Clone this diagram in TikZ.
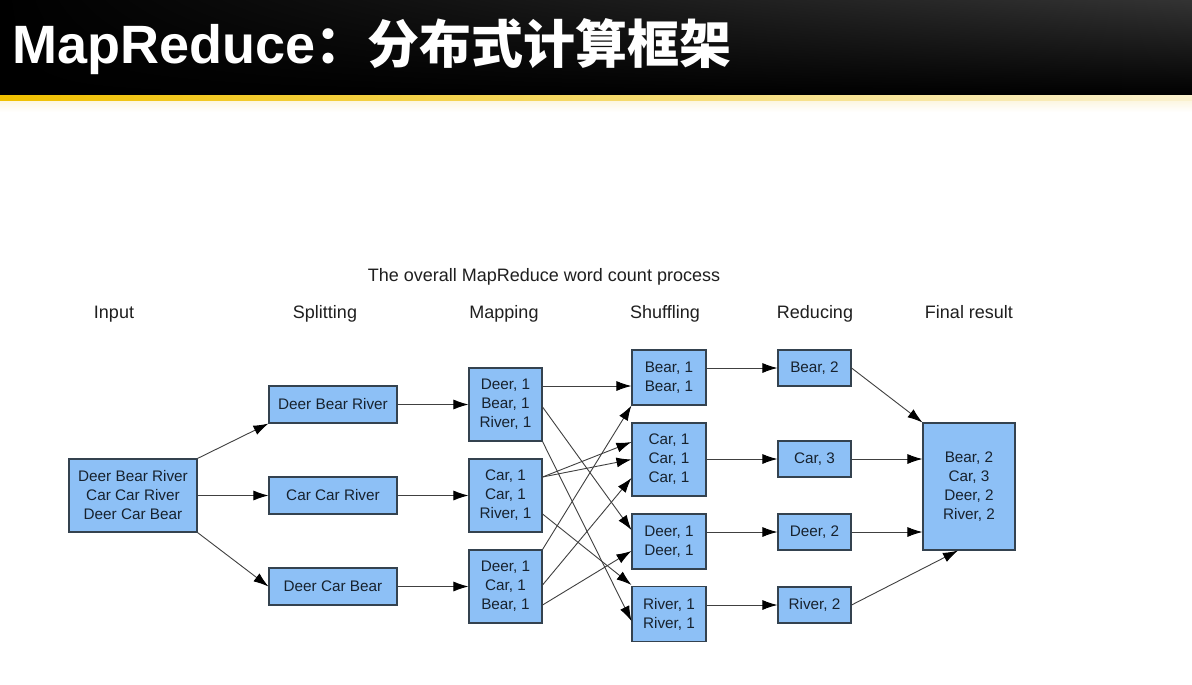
\documentclass[tikz,border=0pt]{standalone}
\usepackage{fontspec}
\setmainfont{Liberation Sans}
\newfontfamily\cjk{Noto Sans CJK SC}
\usetikzlibrary{arrows.meta,shadings}
\definecolor{boxfill}{HTML}{8DC0F6}
\definecolor{boxdraw}{HTML}{34424F}
\definecolor{txt}{HTML}{17222E}
\definecolor{gold}{HTML}{F0C000}
\definecolor{paleyel}{HTML}{FAF1CF}
\begin{document}
\begin{tikzpicture}[x=1pt,y=-1pt,
  box/.style={draw=boxdraw, line width=1.1pt, fill=boxfill, inner sep=0pt, text=txt,
    font=\fontsize{15.3}{19}\selectfont, align=center},
  arr/.style={draw=black!75, line width=0.9pt, -{Latex[length=15pt,width=10pt,color=black]}},
  hdr/.style={font=\fontsize{18}{22}\selectfont, text=black!88, anchor=base, inner sep=0pt}]
\useasboundingbox (0,0) rectangle (1192,685);
\fill[white] (0,0) rectangle (1192,685);
% header bar
\shade[upper left=black, lower left=black, lower right=black, upper right=black!80!white] (0,0) rectangle (1192,96);
\shade[left color=gold, right color=paleyel] (0,96) rectangle (1192,101);
\shade[top color=paleyel!60!white, bottom color=white] (0,101) rectangle (1192,112);
\node[anchor=base west, text=white, inner sep=0pt] (ttl) at (12,64)
  {\fontsize{54}{54}\selectfont\bfseries MapReduce\cjk\fontsize{52}{52}\selectfont ：分布式计算框架};

% titles
\node[hdr] (cap) at (544,281) {The overall MapReduce word count process};
\node[hdr] (h1) at (114,318) {Input};
\node[hdr] (h2) at (325,318) {Splitting};
\node[hdr] (h3) at (504,318) {Mapping};
\node[hdr] (h4) at (665,318) {Shuffling};
\node[hdr] (h5) at (815,318) {Reducing};
\node[hdr] (h6) at (969,318) {Final result};

% input
\node[box, minimum width=128pt, minimum height=73pt] (in) at (133,495.5) {Deer Bear River\\Car Car River\\Deer Car Bear};
% splitting
\node[box, minimum width=128pt, minimum height=37pt] (s1) at (333,404.5) {Deer Bear River};
\node[box, minimum width=128pt, minimum height=37pt] (s2) at (333,495.5) {Car Car River};
\node[box, minimum width=128pt, minimum height=37pt] (s3) at (333,586.5) {Deer Car Bear};
% mapping
\node[box, minimum width=73pt, minimum height=73pt] (m1) at (505.5,404.5) {Deer, 1\\Bear, 1\\River, 1};
\node[box, minimum width=73pt, minimum height=73pt] (m2) at (505.5,495.5) {Car, 1\\Car, 1\\River, 1};
\node[box, minimum width=73pt, minimum height=73pt] (m3) at (505.5,586.5) {Deer, 1\\Car, 1\\Bear, 1};
% shuffling
\node[box, minimum width=74pt, minimum height=55pt] (sh1) at (669,377.5) {Bear, 1\\Bear, 1};
\node[box, minimum width=74pt, minimum height=73pt] (sh2) at (669,459.5) {Car, 1\\Car, 1\\Car, 1};
\node[box, minimum width=74pt, minimum height=55pt] (sh3) at (669,541.5) {Deer, 1\\Deer, 1};
\node[box, minimum width=74pt, minimum height=55pt] (sh4) at (669,614) {River, 1\\River, 1};
% reducing
\node[box, minimum width=73pt, minimum height=36pt] (r1) at (814.5,368) {Bear, 2};
\node[box, minimum width=73pt, minimum height=36pt] (r2) at (814.5,459) {Car, 3};
\node[box, minimum width=73pt, minimum height=36pt] (r3) at (814.5,532) {Deer, 2};
\node[box, minimum width=73pt, minimum height=36pt] (r4) at (814.5,605) {River, 2};
% final
\node[box, minimum width=92pt, minimum height=127pt] (fin) at (969,486.5) {Bear, 2\\Car, 3\\Deer, 2\\River, 2};

% input -> splitting
\draw[arr] (in.north east) -- (s1.south west);
\draw[arr] (in.east) -- (s2.west);
\draw[arr] (in.south east) -- (s3.west);
% splitting -> mapping
\draw[arr] (s1.east) -- (m1.west);
\draw[arr] (s2.east) -- (m2.west);
\draw[arr] (s3.east) -- (m3.west);
% mapping -> shuffling
\draw[arr] ([yshift=18.5pt]m1.east) -- ([yshift=-8.5pt]sh1.west);
\draw[arr] ([yshift=-2.5pt]m1.east) -- ([yshift=11.5pt]sh3.west);
\draw[arr] (m1.south east) -- ([yshift=-7pt]sh4.west);
\draw[arr] ([yshift=18.5pt]m2.east) -- ([yshift=17.5pt]sh2.west);
\draw[arr] ([yshift=18.5pt]m2.east) -- (sh2.west);
\draw[arr] ([yshift=-18.5pt]m2.east) -- ([yshift=1pt]sh4.north west);
\draw[arr] (m3.north east) -- (sh1.south west);
\draw[arr] ([yshift=1.5pt]m3.east) -- ([yshift=-18.5pt]sh2.west);
\draw[arr] ([yshift=-18.5pt]m3.east) -- ([yshift=-9.5pt]sh3.west);
% shuffling -> reducing
\draw[arr] (sh1.east |- r1.west) -- (r1.west);
\draw[arr] (sh2.east |- r2.west) -- (r2.west);
\draw[arr] (sh3.east |- r3.west) -- (r3.west);
\draw[arr] (sh4.east |- r4.west) -- (r4.west);
% reducing -> final
\draw[arr] (r1.east) -- (fin.north west);
\draw[arr] (r2.east) -- (fin.west |- r2.east);
\draw[arr] (r3.east) -- (fin.west |- r3.east);
\draw[arr] (r4.east) -- ([xshift=-11pt]fin.south);
\end{tikzpicture}
\end{document}
